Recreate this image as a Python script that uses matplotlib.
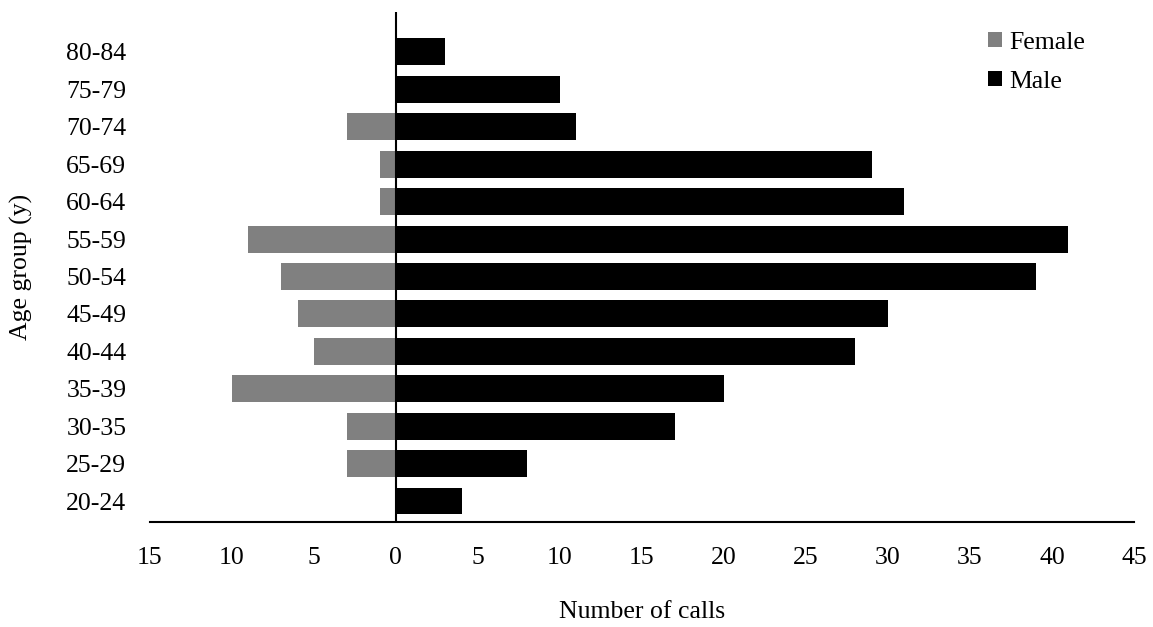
import matplotlib.pyplot as plt

plt.rcParams['font.family'] = ['Liberation Serif', 'DejaVu Serif']

age_groups = ['20-24', '25-29', '30-35', '35-39', '40-44', '45-49', '50-54',
              '55-59', '60-64', '65-69', '70-74', '75-79', '80-84']
male = [4, 8, 17, 20, 28, 30, 39, 41, 31, 29, 11, 10, 3]
female = [0, 3, 3, 10, 5, 6, 7, 9, 1, 1, 3, 0, 0]
xticks = [-15, -10, -5, 0, 5, 10, 15, 20, 25, 30, 35, 40, 45]

fs = 18.5
fig = plt.figure(figsize=(11.53, 6.27), dpi=100)
ax = fig.add_axes([0.130, 0.1675, 0.8535, 0.8135])

y = list(range(len(age_groups)))
ax.barh(y, [-v for v in female], height=0.72, color='#808080', label='Female')
ax.barh(y, male, height=0.72, color='black', label='Male')

ax.axvline(0, color='black', linewidth=1.5)
ax.set_xlim(-15, 45)
ax.set_ylim(-0.56, 13.07)
ax.set_xticks(xticks)
ax.set_xticklabels([str(abs(t)) for t in xticks])
ax.set_yticks(y)
ax.set_yticklabels(age_groups)
ax.tick_params(axis='x', length=0, pad=18, labelsize=fs)
ax.tick_params(axis='y', length=0, pad=17, labelsize=fs)
for s in ['top', 'right', 'left']:
    ax.spines[s].set_visible(False)
ax.spines['bottom'].set_linewidth(1.5)

ax.set_xlabel('Number of calls', fontsize=fs, labelpad=23)
ax.set_ylabel('Age group (y)', fontsize=fs, labelpad=24)

ax.legend(loc='upper left', bbox_to_anchor=(0.852, 0.961), frameon=False,
          fontsize=fs, handlelength=0.55, handleheight=0.55, handletextpad=0.25,
          labelspacing=0.65, borderpad=0, borderaxespad=0)

fig.savefig('out.png', dpi=100)
